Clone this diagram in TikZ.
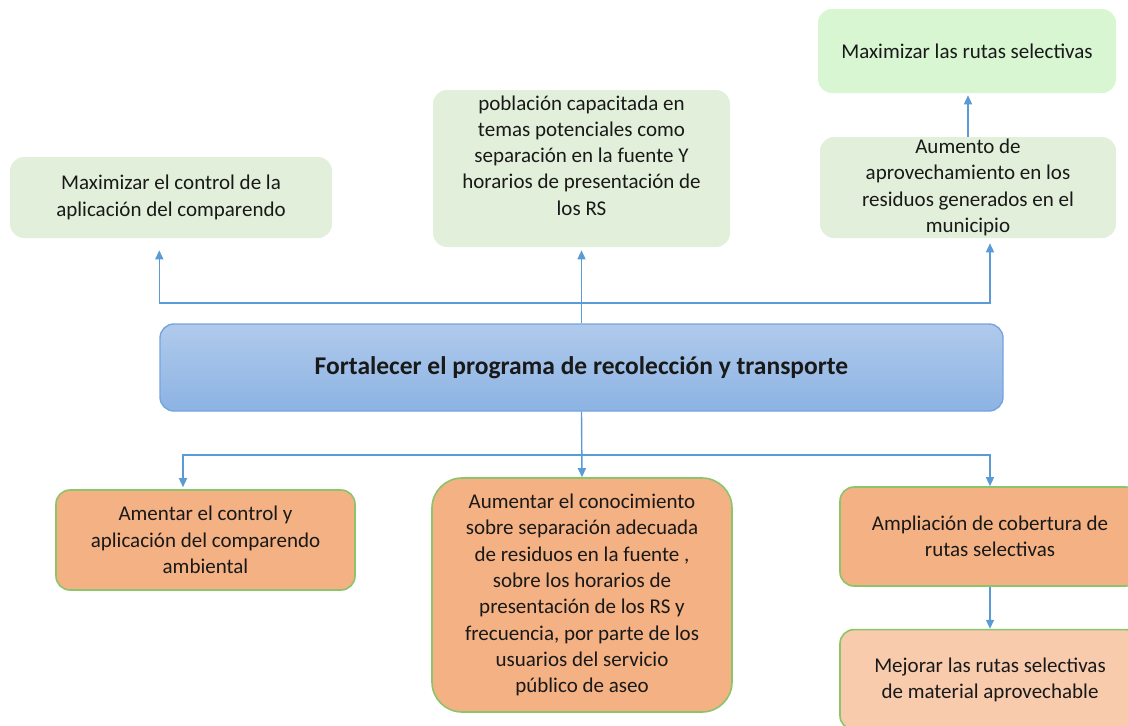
\documentclass[tikz,border=0pt]{standalone}
\usepackage{fontspec}
\setmainfont{Carlito}
\usepackage{xcolor}
\usetikzlibrary{arrows.meta, positioning}

\definecolor{verdeclaro}{HTML}{E2EFDA}
\definecolor{verdevivo}{HTML}{D7F6D1}
\definecolor{naranja}{HTML}{F4B183}
\definecolor{naranjaclaro}{HTML}{F8CBAD}
\definecolor{bordeverde}{HTML}{8CC46B}
\definecolor{azulflecha}{HTML}{5B9BD5}
\definecolor{azularriba}{HTML}{B0CAEC}
\definecolor{azulabajo}{HTML}{8CB3E3}
\definecolor{azulborde}{HTML}{74A5DE}

\begin{document}
\begin{tikzpicture}[x=1pt, y=1pt, >={Triangle[length=9pt,width=8pt]},
                    font=\fontsize{21}{26.3}\selectfont, semithick]
\tikzstyle{caja}=[rectangle, rounded corners=14pt, align=center,
                    inner xsep=6pt, inner ysep=2pt, text=black!90]
\tikzstyle{verde}=[caja, fill=verdeclaro]
\tikzstyle{naranjo}=[caja, fill=naranja, draw=bordeverde, line width=1.6pt]
\tikzstyle{flecha}=[->, draw=azulflecha, line width=1.4pt]
  \useasboundingbox (0,0) rectangle (1128,-726);
  \clip (0,0) rectangle (1128,-726);
  % central objective
  \node[caja, top color=azularriba, bottom color=azulabajo, draw=azulborde,
        line width=1.4pt, minimum width=843, minimum height=87,
        font=\fontsize{25.5}{30}\selectfont\bfseries] (main) at (581.5,-367.5)
        {Fortalecer el programa de recolección y transporte};
  % ends (top)
  \node[verde, minimum width=322, minimum height=81] (ctrl) at (171,-197.5)
        {Maximizar el control de la\\aplicación del comparendo};
  \node[verde, minimum width=297, minimum height=157, inner ysep=0pt] (pob) at (581.5,-168.5)
        {población capacitada en\\temas potenciales como\\separación en la fuente Y\\horarios de presentación de\\los RS\\\mbox{}};
  \node[verde, minimum width=296, minimum height=101] (aum) at (968,-187.5)
        {Aumento de\\aprovechamiento en los\\residuos generados en el\\municipio};
  \node[verde, fill=verdevivo, minimum width=298, minimum height=84] (max) at (967,-51)
        {Maximizar las rutas selectivas};
  % means (bottom)
  \node[naranjo, minimum width=299, minimum height=100] (amen) at (205.5,-540)
        {Amentar el control y\\aplicación del comparendo\\ambiental};
  \node[naranjo, rounded corners=30pt, minimum width=300, minimum height=234] (conoc) at (582,-595)
        {Aumentar el conocimiento\\sobre separación adecuada\\de residuos en la fuente ,\\sobre los horarios de\\presentación de los RS y\\frecuencia, por parte de los\\usuarios del servicio\\público de aseo};
  \node[naranjo, minimum width=300, minimum height=99] (ampl) at (990,-536.5)
        {Ampliación de cobertura de\\rutas selectivas};
  \node[naranjo, fill=naranjaclaro, minimum width=300, minimum height=100,
        below=42pt of ampl] (mej)
        {Mejorar las rutas selectivas\\de material aprovechable};
  % connectors
  \coordinate (jt) at (581.5,-303);
  \coordinate (jb) at (581.5,-455);
  \draw[flecha, shorten >=3pt] (main.north) -- (pob.south);
  \draw[flecha, shorten >=12pt] (jt) -| (ctrl.south -| main.west);
  \draw[flecha, shorten >=5pt] (jt) -| (aum.south -| ampl.north);
  \draw[flecha, shorten >=2pt] (aum.north) -- (aum.north |- max.south);
  \draw[flecha] (main.south) -- (conoc.north);
  \draw[flecha, shorten >=2pt] (jb) -| ([xshift=-22.5pt]amen.north);
  \draw[flecha] (jb) -| (ampl.north);
  \draw[flecha] (ampl.south) -- (mej.north);
\end{tikzpicture}
\end{document}
